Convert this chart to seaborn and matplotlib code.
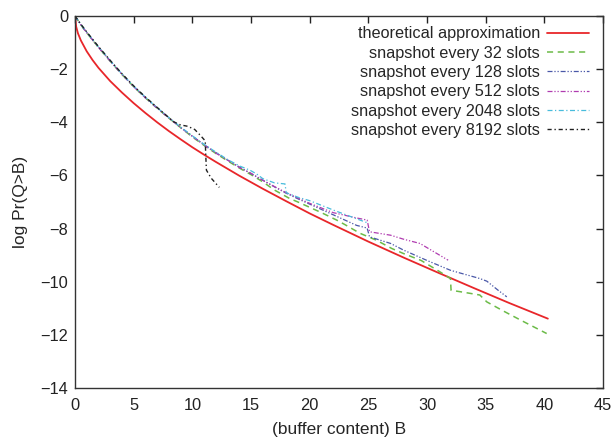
import numpy as np
import pandas as pd
import matplotlib
matplotlib.use("Agg")
import matplotlib.pyplot as plt
import seaborn as sns

# ---- data ----
theory_B = [0, 0.1, 0.25, 0.5, 1, 1.5, 2, 3, 4, 5, 6, 7, 8, 9, 10, 11, 12, 14, 16, 18, 20, 22, 25, 28, 31, 34, 37, 40.3]
theory_v = [0, -0.4, -0.65, -0.92, -1.33, -1.66, -1.95, -2.45, -2.88, -3.28, -3.65, -4.0, -4.33, -4.64, -4.94, -5.22, -5.49, -6.01, -6.5, -6.97, -7.43, -7.86, -8.49, -9.09, -9.67, -10.24, -10.8, -11.39]

s32_B = [0, 0.5, 1, 2, 3, 4, 5, 6, 7, 8, 9, 10, 11, 12, 13, 14, 15, 16, 17, 18.3, 19, 20, 21, 22.3, 23, 24.3, 25.7, 27, 28, 29.5, 31, 32, 32.05, 33.7, 34.5, 35.1, 36.5, 38, 40.2]
s32_v = [0, -0.33, -0.63, -1.18, -1.7, -2.2, -2.66, -3.08, -3.47, -3.84, -4.2, -4.55, -4.87, -5.17, -5.45, -5.72, -5.97, -6.24, -6.55, -6.87, -7.0, -7.2, -7.4, -7.68, -7.85, -8.18, -8.44, -8.75, -8.94, -9.2, -9.6, -9.88, -10.32, -10.44, -10.5, -10.76, -11.1, -11.45, -11.95]

s128_B = [0, 0.5, 1, 2, 3, 4, 5, 6, 7, 8, 9, 10, 11, 12, 13, 14, 15, 16, 17, 18, 19, 20, 22, 24, 24.9, 25.1, 26.9, 28, 30, 32, 32.8, 34.5, 35.1, 36, 36.8]
s128_v = [0, -0.33, -0.62, -1.17, -1.69, -2.19, -2.65, -3.07, -3.46, -3.83, -4.19, -4.52, -4.84, -5.14, -5.42, -5.68, -5.93, -6.18, -6.43, -6.67, -6.88, -7.08, -7.48, -7.88, -7.98, -8.31, -8.56, -8.81, -9.2, -9.57, -9.67, -9.88, -9.98, -10.3, -10.57]

s512_B = [0, 0.5, 1, 2, 3, 4, 5, 6, 7, 8, 9, 10, 11, 12, 13, 14, 15, 16, 17, 18, 19, 20, 22, 24, 24.9, 25.1, 26.9, 28, 29.4, 30.5, 31.8]
s512_v = [0, -0.33, -0.63, -1.18, -1.7, -2.2, -2.66, -3.08, -3.47, -3.84, -4.2, -4.53, -4.86, -5.16, -5.42, -5.7, -5.92, -6.18, -6.42, -6.65, -6.85, -7.05, -7.4, -7.6, -7.68, -8.12, -8.25, -8.4, -8.56, -8.85, -9.19]

s2048_B = [0, 0.5, 1, 2, 3, 4, 5, 6, 7, 8, 9, 10, 11, 12, 13, 14, 14.9, 15.5, 16, 17, 17.9, 18, 19, 20, 22, 23.5, 24.9]
s2048_v = [0, -0.32, -0.61, -1.16, -1.68, -2.18, -2.64, -3.06, -3.45, -3.82, -4.18, -4.51, -4.83, -5.12, -5.4, -5.64, -5.8, -5.95, -6.12, -6.28, -6.32, -6.65, -6.82, -6.95, -7.3, -7.55, -7.78]

s8192_B = [0, 0.5, 1, 2, 3, 4, 5, 6, 7, 7.8, 8.4, 9, 9.6, 10.2, 10.7, 11.1, 11.15, 11.2, 11.6, 12.3]
s8192_v = [0, -0.31, -0.6, -1.15, -1.67, -2.17, -2.63, -3.05, -3.44, -3.75, -3.98, -4.1, -4.15, -4.27, -4.5, -4.7, -5.3, -5.8, -6.1, -6.45]

labels = ["theoretical approximation", "snapshot every 32 slots", "snapshot every 128 slots",
          "snapshot every 512 slots", "snapshot every 2048 slots", "snapshot every 8192 slots"]
series = [(theory_B, theory_v), (s32_B, s32_v), (s128_B, s128_v), (s512_B, s512_v),
          (s2048_B, s2048_v), (s8192_B, s8192_v)]
x_ticks = [0, 5, 10, 15, 20, 25, 30, 35, 40, 45]
y_ticks = [0, -2, -4, -6, -8, -10, -12, -14]

# ---- style ----
sns.set_style("white")
plt.rcParams["font.family"] = ["Liberation Sans", "DejaVu Sans"]
plt.rcParams["axes.unicode_minus"] = True

colors = ["#e8262a", "#6cbb48", "#4a58a8", "#b03cb0", "#48bcdc", "#202020"]
dashes = [None, (4, 3), (4, 1.5, 1, 1.5, 1, 1.5), (4, 1.5, 1, 1.5, 1, 1.5), (4, 2, 1, 2), (3, 2, 1, 2)]
widths = [1.3, 1.1, 0.9, 0.9, 0.9, 1.0]

fig = plt.figure(figsize=(6.13, 4.40), dpi=100)
ax = fig.add_axes([75 / 613, 1 - 388 / 440, (603 - 75) / 613, (388 - 16) / 440])

for (xs, ys), lab, c, d, w in zip(series, labels, colors, dashes, widths):
    df = pd.DataFrame({"B": xs, "v": ys})
    sns.lineplot(data=df, x="B", y="v", ax=ax, color=c, lw=w, label=lab,
                 estimator=None, sort=False)
    line = ax.get_lines()[-1]
    if d is not None:
        line.set_dashes(d)

ax.set_xlim(0, 45)
ax.set_ylim(-14, 0)
ax.set_xticks(x_ticks)
ax.set_yticks(y_ticks)
ax.set_xticklabels([str(t) for t in x_ticks])
ax.set_yticklabels([("\u2212" + str(-t)) if t < 0 else str(t) for t in y_ticks])
ax.tick_params(axis="both", direction="in", length=5, width=1, top=True, right=True,
               labelsize=11.8, colors="#222222")
ax.tick_params(axis="x", pad=7)
ax.tick_params(axis="y", pad=5)
for s in ax.spines.values():
    s.set_color("#333333")
    s.set_linewidth(1.0)
ax.set_xlabel("(buffer content) B", fontsize=12.5, labelpad=7)
ax.set_ylabel("log Pr(Q>B)", fontsize=12.5, labelpad=9)

leg = ax.legend(loc="upper right", bbox_to_anchor=((592 - 75) / 528, 1 - 7 / 372),
                frameon=False, markerfirst=False, fontsize=11.7, handlelength=2.6,
                handletextpad=0.4, labelspacing=0.27, borderaxespad=0, borderpad=0.2)

fig.savefig("out.png", dpi=100)
